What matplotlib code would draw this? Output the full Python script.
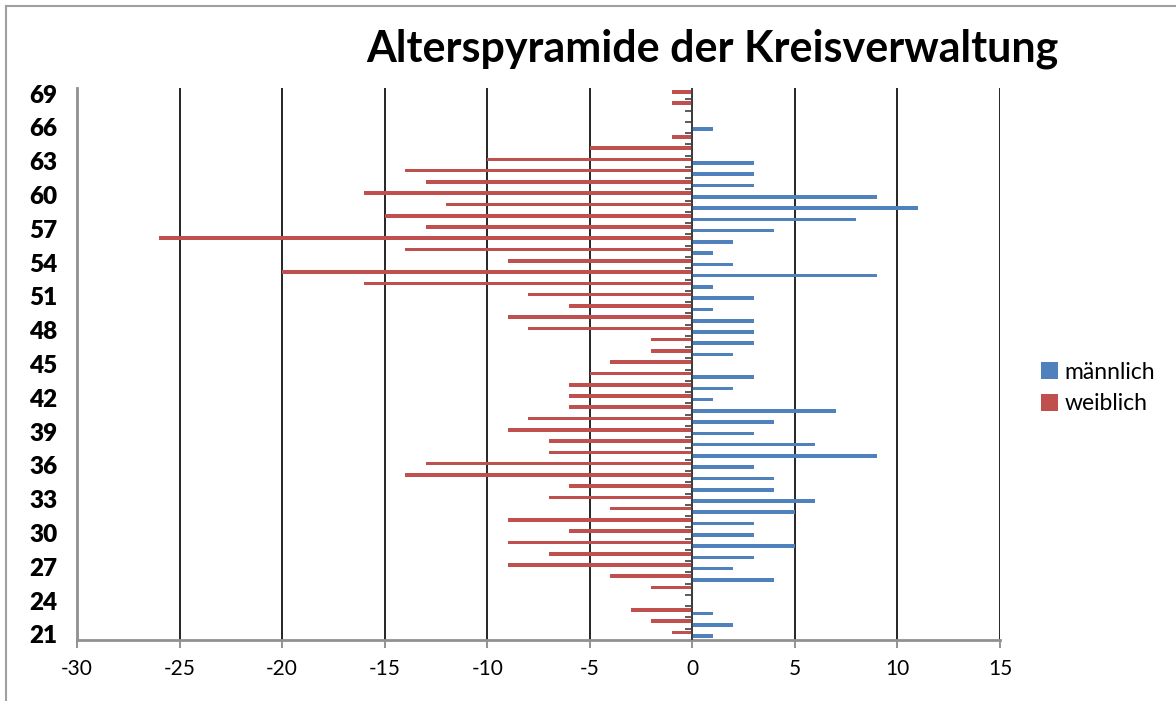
import numpy as np
import matplotlib
matplotlib.use("Agg")
import matplotlib.pyplot as plt
from matplotlib.lines import Line2D
from matplotlib.patches import Patch

plt.rcParams['font.family'] = ['Lato', 'DejaVu Sans']

# Alter 21 .. 69
ages = list(range(21, 70))

# Anzahl männlich je Alter (21 .. 69)
maennlich = [1, 2, 1, 0, 0, 4, 2, 3, 5, 3,
             3, 5, 6, 4, 4, 3, 9, 6, 3, 4,
             7, 1, 2, 3, 0, 2, 3, 3, 3, 1,
             3, 1, 9, 2, 1, 2, 4, 8, 11, 9,
             3, 3, 3, 0, 0, 1, 0, 0, 0]

# Anzahl weiblich je Alter (21 .. 69), negativ dargestellt
weiblich = [1, 2, 3, 0, 2, 4, 9, 7, 9, 6,
            9, 4, 7, 6, 14, 13, 7, 7, 9, 8,
            6, 6, 6, 5, 4, 2, 2, 8, 9, 6,
            8, 16, 20, 9, 14, 26, 13, 15, 12, 16,
            13, 14, 10, 5, 1, 0, 0, 1, 1]

x_ticks = [-30, -25, -20, -15, -10, -5, 0, 5, 10, 15]
y_labels = list(range(21, 70, 3))

blue = '#4F81BD'
red = '#C0504D'

fig = plt.figure(figsize=(11.76, 7.01), dpi=100)
ax = fig.add_axes([77/1176, 1 - 640/701, 923/1176, 552/701])

y = np.array(ages, dtype=float)
h = 0.32
ax.barh(y - h/2, maennlich, height=h, color=blue, zorder=3)
ax.barh(y + h/2, -np.array(weiblich), height=h, color=red, zorder=3)

ax.set_xlim(-30, 15)
ax.set_ylim(20.5, 69.5)

# vertikale Gitterlinien
for xv in x_ticks:
    ax.axvline(xv, color='black', lw=1.2, zorder=1)

# Achse bei 0 mit Teilstrichen zwischen den Kategorien
ax.axvline(0, color='#404040', lw=1.3, zorder=4)
ax.hlines(np.array(ages[:-1]) + 0.5, -0.35, 0, color='#404040', lw=1.2, zorder=4)

ax.set_xticks(x_ticks)
ax.set_xticklabels([str(v) for v in x_ticks], fontsize=15)
ax.tick_params(axis='x', length=6, width=1.2, color='#808080', pad=8)

ax.set_yticks(y_labels)
ax.set_yticklabels([str(v) for v in y_labels], fontsize=17.5, fontweight='heavy')
ax.tick_params(axis='y', length=0, pad=14)

for s in ['top', 'right']:
    ax.spines[s].set_visible(False)
ax.spines['bottom'].set_color('#909090')
ax.spines['bottom'].set_linewidth(2)
ax.spines['left'].set_color('#909090')
ax.spines['left'].set_linewidth(2)

fig.text(712/1176, 1 - 49/701, 'Alterspyramide der Kreisverwaltung',
         ha='center', va='center', fontsize=31, fontweight='bold')

handles = [Patch(facecolor=blue), Patch(facecolor=red)]
fig.legend(handles, ['männlich', 'weiblich'], loc='center left',
           bbox_to_anchor=(1020/1176, 1 - 388/701), frameon=False,
           fontsize=16.5, handlelength=0.75, handleheight=0.75,
           handletextpad=0.3, labelspacing=0.45)

# Rahmen oben und links
fig.add_artist(Line2D([6/1176, 6/1176], [0, 1 - 6/701], transform=fig.transFigure,
                      color='#a0a0a0', lw=1.5))
fig.add_artist(Line2D([6/1176, 1], [1 - 6/701, 1 - 6/701], transform=fig.transFigure,
                      color='#a0a0a0', lw=1.5))

fig.savefig('out.png', dpi=100)
